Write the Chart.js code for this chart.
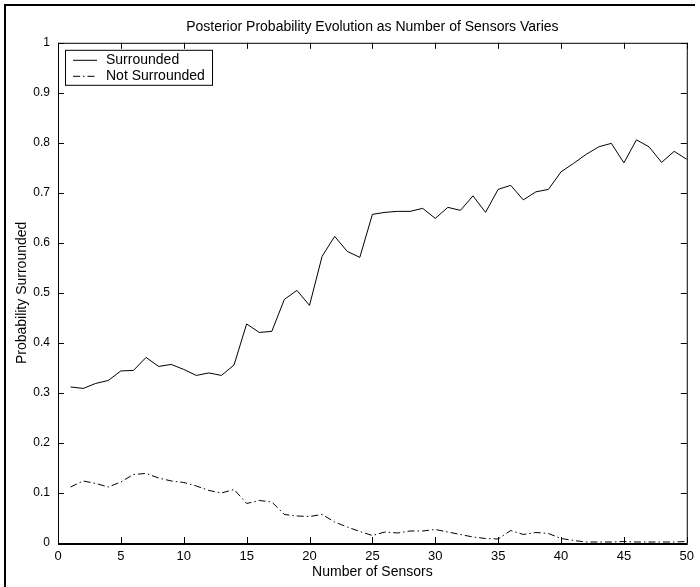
<html>
<head>
<script src="https://cdn.jsdelivr.net/npm/chart.js@4.4.0/dist/chart.umd.min.js"></script>
<style>
  body { margin: 0; background: #fff; }
  #wrap { width: 700px; height: 587px; }
</style>
</head>
<body>
<div id="wrap"><canvas id="myChart" width="700" height="587"></canvas></div>
<script>
  var sensors = [1, 2, 3, 4, 5, 6, 7, 8, 9, 10,
    11, 12, 13, 14, 15, 16, 17, 18, 19, 20,
    21, 22, 23, 24, 25, 26, 27, 28, 29, 30,
    31, 32, 33, 34, 35, 36, 37, 38, 39, 40,
    41, 42, 43, 44, 45, 46, 47, 48, 49, 50];

  var surrounded = [0.312, 0.309, 0.319, 0.325, 0.344, 0.345, 0.371, 0.353, 0.357, 0.347,
    0.335, 0.340, 0.335, 0.356, 0.438, 0.421, 0.423, 0.487, 0.505, 0.475,
    0.573, 0.613, 0.583, 0.571, 0.657, 0.661, 0.663, 0.663, 0.669, 0.649,
    0.671, 0.665, 0.694, 0.661, 0.707, 0.715, 0.686, 0.702, 0.707, 0.742,
    0.759, 0.777, 0.792, 0.799, 0.760, 0.806, 0.792, 0.761, 0.783, 0.767];

  var notSurrounded = [0.112, 0.124, 0.119, 0.112, 0.122, 0.137, 0.139, 0.130, 0.124, 0.121,
    0.114, 0.105, 0.100, 0.107, 0.079, 0.085, 0.082, 0.057, 0.054, 0.053,
    0.057, 0.042, 0.032, 0.023, 0.015, 0.022, 0.020, 0.024, 0.024, 0.027,
    0.022, 0.017, 0.012, 0.009, 0.008, 0.025, 0.017, 0.021, 0.019, 0.009,
    0.005, 0.002, 0.002, 0.002, 0.003, 0.002, 0.002, 0.002, 0.002, 0.003];

  var xTicks = [0, 5, 10, 15, 20, 25, 30, 35, 40, 45, 50];
  var yTicks = [0, 0.1, 0.2, 0.3, 0.4, 0.5, 0.6, 0.7, 0.8, 0.9, 1];

  var FONT = "'Liberation Sans', Arial, sans-serif";
  Chart.defaults.font.family = FONT;
  Chart.defaults.font.size = 12;
  Chart.defaults.color = '#000';

  // matlab style frame, inward ticks, outer figure edge and boxed legend
  var matlabFrame = {
    id: 'matlabFrame',
    afterDraw: function(chart) {
      var ctx = chart.ctx;
      var a = chart.chartArea;
      var xs = chart.scales.x, ys = chart.scales.y;
      ctx.save();
      ctx.strokeStyle = '#000';
      ctx.lineWidth = 1;
      ctx.strokeRect(a.left + 0.5, a.top + 0.5, a.right - a.left, a.bottom - a.top);
      ctx.beginPath();
      xTicks.forEach(function(v) {
        var px = Math.round(xs.getPixelForValue(v)) + 0.5;
        ctx.moveTo(px, a.bottom); ctx.lineTo(px, a.bottom - 6);
        ctx.moveTo(px, a.top); ctx.lineTo(px, a.top + 6);
      });
      yTicks.forEach(function(v) {
        var py = Math.round(ys.getPixelForValue(v)) + 0.5;
        ctx.moveTo(a.left, py); ctx.lineTo(a.left + 6, py);
        ctx.moveTo(a.right, py); ctx.lineTo(a.right - 6, py);
      });
      ctx.stroke();
      // bottom axis reads a little heavier
      ctx.beginPath();
      ctx.moveTo(a.left, a.bottom + 1.5); ctx.lineTo(a.right + 1, a.bottom + 1.5);
      ctx.stroke();

      // figure edge (only top and left show)
      ctx.lineWidth = 2;
      ctx.beginPath();
      ctx.moveTo(5, 587); ctx.lineTo(5, 5); ctx.lineTo(695, 5);
      ctx.stroke();

      // legend
      var lx = a.left + 7, ly = a.top + 7, lw = 147, lh = 35;
      ctx.fillStyle = '#fff';
      ctx.fillRect(lx, ly, lw, lh);
      ctx.lineWidth = 1;
      ctx.strokeRect(lx + 0.5, ly + 0.5, lw, lh);
      ctx.font = '14px ' + FONT;
      ctx.textBaseline = 'middle';
      ctx.fillStyle = '#000';
      chart.data.datasets.forEach(function(ds, i) {
        var cy = ly + 10 + i * 16 + 0.5;
        ctx.setLineDash(ds.borderDash || []);
        ctx.beginPath();
        ctx.moveTo(lx + 8, cy); ctx.lineTo(lx + 32, cy);
        ctx.stroke();
        ctx.setLineDash([]);
        ctx.fillText(ds.label, lx + 41, cy);
      });
      ctx.restore();
    }
  };

  var ctx = document.getElementById('myChart').getContext('2d');
  var myChart = new Chart(ctx, {
    type: 'line',
    data: {
      labels: sensors,
      datasets: [{
        label: 'Surrounded',
        data: surrounded,
        borderColor: '#000',
        borderWidth: 1,
        pointRadius: 0,
        tension: 0
      }, {
        label: 'Not Surrounded',
        data: notSurrounded,
        borderColor: '#000',
        borderWidth: 1,
        borderDash: [7, 3, 1.5, 3],
        pointRadius: 0,
        tension: 0
      }]
    },
    options: {
      responsive: false,
      animation: false,
      layout: { padding: { left: 6, right: 8, top: 0, bottom: 0 } },
      plugins: {
        legend: { display: false },
        tooltip: { enabled: false },
        title: {
          display: true,
          fullSize: false,
          text: 'Posterior Probability Evolution as Number of Sensors Varies',
          font: { size: 14, weight: 'normal' },
          padding: { top: 19, bottom: 7 }
        }
      },
      scales: {
        x: {
          type: 'linear',
          min: 0, max: 50,
          afterBuildTicks: function(s) { s.ticks = xTicks.map(function(v) { return { value: v }; }); },
          afterFit: function(s) { s.height = 44; },
          grid: { display: false, drawTicks: false },
          border: { display: false },
          ticks: { padding: 6, maxRotation: 0, autoSkip: false, font: { size: 13 } },
          title: { display: true, text: 'Number of Sensors', font: { size: 14 }, padding: { top: 0, bottom: 6 } }
        },
        y: {
          min: 0, max: 1,
          afterBuildTicks: function(s) { s.ticks = yTicks.map(function(v) { return { value: v }; }); },
          afterFit: function(s) { s.width = 52; },
          grid: { display: false, drawTicks: false },
          border: { display: false },
          ticks: { padding: 8, autoSkip: false, font: { size: 12 }, callback: function(v) { return String(v); } },
          title: { display: true, text: 'Probability Surrounded', font: { size: 14 }, padding: { top: 8, bottom: 0 } }
        }
      }
    },
    plugins: [matlabFrame]
  });
</script>
</body>
</html>
